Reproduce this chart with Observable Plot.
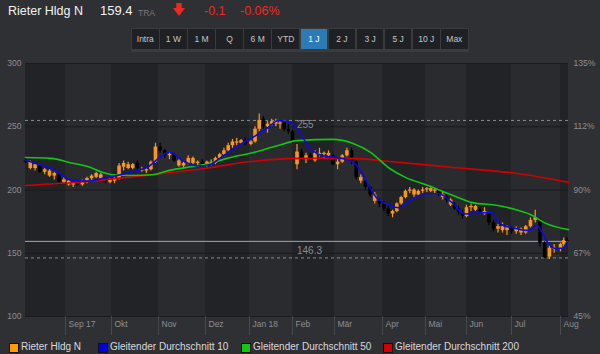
<!DOCTYPE html>
<html><head><meta charset="utf-8">
<script src="https://cdn.jsdelivr.net/npm/d3@7"></script>
<script src="https://cdn.jsdelivr.net/npm/@observablehq/plot@0.6"></script>
<style>
html,body{margin:0;padding:0}
body{background:#2f3034;font-family:"Liberation Sans",Arial,sans-serif;width:600px;height:354px;overflow:hidden;position:relative}
.a{position:absolute;white-space:nowrap}
#btns{position:absolute;left:131px;top:28px;height:22px;display:flex;gap:1.5px;background:#3a3b3f;padding:1px}
#btns div{width:26.6px;height:20px;line-height:20px;text-align:center;font-size:8.5px;color:#c4c5c8;background:#1f2023}
#btns div.sel{background:#2c7bb6;color:#fff}
#chart{position:absolute;left:0;top:52px}
.lg{position:absolute;top:343px;width:8px;height:8px;border:1px solid #111}
.lt{position:absolute;top:341px;font-size:10px;color:#d8d9dc;line-height:12px}
</style></head><body>
<div class="a" style="left:8px;top:3px;font-size:12.5px;line-height:16px;color:#f2f2f2">Rieter Hldg N</div>
<div class="a" style="left:100px;top:3px;font-size:13px;line-height:16px;color:#f2f2f2">159.4</div>
<div class="a" style="left:138px;top:8px;font-size:8.5px;line-height:10px;color:#77787c">TRA</div>
<svg class="a" style="left:173px;top:3px" width="12" height="13"><rect x="3.3" y="0" width="5.4" height="5.5" fill="#f0281e"/><polygon points="0,5 12,5 6,13" fill="#f0281e"/></svg>
<div class="a" style="left:204px;top:3px;font-size:12.5px;line-height:16px;color:#f0281e">-0.1</div>
<div class="a" style="left:240px;top:3px;font-size:12.5px;line-height:16px;color:#f0281e">-0.06%</div>
<div id="btns"></div>
<div id="chart"></div>
<div class="lg" style="left:9px;background:#ff9a00"></div><div class="lt" style="left:21px">Rieter Hldg N</div>
<div class="lg" style="left:98px;background:#0000e0"></div><div class="lt" style="left:110px">Gleitender Durchschnitt 10</div>
<div class="lg" style="left:241px;background:#10c810"></div><div class="lt" style="left:253px">Gleitender Durchschnitt 50</div>
<div class="lg" style="left:383px;background:#d00000"></div><div class="lt" style="left:395px">Gleitender Durchschnitt 200</div>
<script>
// ---- data ----
const rangeButtons = ["Intra","1 W","1 M","Q","6 M","YTD","1 J","2 J","3 J","5 J","10 J","Max"];
const selectedRange = "1 J";

const dates = [
"2017-08-07","2017-08-10","2017-08-13","2017-08-16","2017-08-19","2017-08-22","2017-08-25","2017-08-28","2017-08-31",
"2017-09-03","2017-09-06","2017-09-09","2017-09-12","2017-09-15","2017-09-18","2017-09-21","2017-09-24","2017-09-27","2017-09-30",
"2017-10-03","2017-10-06","2017-10-09","2017-10-12","2017-10-15","2017-10-18","2017-10-21","2017-10-24","2017-10-27","2017-10-30",
"2017-11-02","2017-11-05","2017-11-08","2017-11-11","2017-11-14","2017-11-17","2017-11-20","2017-11-23","2017-11-26","2017-11-29",
"2017-12-02","2017-12-05","2017-12-08","2017-12-11","2017-12-14","2017-12-17","2017-12-20","2017-12-23","2017-12-26","2017-12-29",
"2018-01-02","2018-01-05","2018-01-08","2018-01-11","2018-01-14","2018-01-17","2018-01-20","2018-01-23","2018-01-26","2018-01-29",
"2018-02-01","2018-02-04","2018-02-07","2018-02-10","2018-02-13","2018-02-16","2018-02-19","2018-02-22","2018-02-25","2018-02-28",
"2018-03-03","2018-03-06","2018-03-09","2018-03-12","2018-03-15","2018-03-18","2018-03-21","2018-03-24","2018-03-27","2018-03-30",
"2018-04-02","2018-04-05","2018-04-08","2018-04-11","2018-04-14","2018-04-17","2018-04-20","2018-04-23","2018-04-26","2018-04-29",
"2018-05-02","2018-05-05","2018-05-08","2018-05-11","2018-05-14","2018-05-17","2018-05-20","2018-05-23","2018-05-26","2018-05-29",
"2018-06-01","2018-06-04","2018-06-07","2018-06-10","2018-06-13","2018-06-16","2018-06-19","2018-06-22","2018-06-25","2018-06-28",
"2018-07-01","2018-07-04","2018-07-07","2018-07-10","2018-07-13","2018-07-16","2018-07-19","2018-07-22","2018-07-25","2018-07-28",
"2018-08-01","2018-08-03","2018-08-05"];
const open = [223,217,217,219,214,211,211,212,206, 204,204,205,204,206,209,210,209,209,206, 207,209,218,217,217,221,215,215,216,222,
 234,231,227,228,219,219,221,221,221,222, 220,221,221,225,228,231,235,237,237,239, 236,238,248,256,250,252,252,252,253,248,
 246,220,230,224,227,223,228,228,227,227, 220,222,227,231,222,207,207,202,191,191, 189,185,181,183,189,194,199,196,196,199,
 200,199,199,200,194,194,188,188,185,182, 179,186,184,184,181,181,174,169,168,168, 170,167,166,166,171,176,176,158,147,153, 153,157,160];
const high = [225,223,221,220,217,216,214,213,210, 208,206,207,208,210,212,214,213,210,209, 210,221,223,222,221,223,218,217,223,237,
 237,232,230,229,224,222,227,226,223,224, 223,224,226,229,233,237,240,241,240,241, 239,250,260,258,254,256,256,255,254,252,
 247,236,232,229,229,231,233,230,231,228, 224,228,233,233,223,212,208,203,198,193, 191,187,184,190,195,200,202,201,200,202,
 202,203,201,201,198,196,193,190,187,184, 188,189,188,186,186,182,176,173,174,172, 171,171,170,172,178,184,177,159,156,157, 158,162,162];
const low = [221,216,215,213,212,210,208,204,205, 203,202,203,203,205,207,209,208,205,205, 205,208,215,216,216,216,214,213,215,221,
 229,225,224,222,218,217,220,220,218,219, 218,219,220,224,226,230,233,235,236,235, 235,237,246,248,245,250,250,248,246,244,
 236,216,222,221,222,222,226,225,226,219, 216,221,226,220,208,205,200,194,189,186, 183,179,178,182,188,193,197,194,195,197,
 198,198,197,195,192,190,187,184,180,177, 178,183,183,181,180,172,167,166,166,164, 165,165,164,165,170,174,155,146,145,150, 151,155,158];
const close = [222,222,220,214,216,215,213,206,208, 207,205,204,207,209,211,213,212,206,208, 209,219,221,220,220,217,216,216,222,234,
 231,227,228,223,223,221,225,225,222,220, 222,222,225,228,231,235,238,238,239,236, 238,248,255,250,252,254,254,253,248,246,
 238,230,224,227,223,229,229,229,229,220, 222,227,231,222,210,210,202,196,196,189, 185,181,183,189,194,199,200,200,199,200,
 201,201,200,196,196,192,192,185,182,179, 186,187,187,183,183,174,169,171,171,170, 167,169,169,171,176,178,158,146.3,154,154, 157,160,159.4];

const ma10Dates = ["2017-08-07","2017-08-17","2017-08-25","2017-09-04","2017-09-15","2017-09-28","2017-10-07","2017-10-13","2017-10-26","2017-11-02","2017-11-08","2017-11-17","2017-11-26","2017-12-04","2017-12-11","2017-12-27","2018-01-04","2018-01-14","2018-01-22","2018-02-01","2018-02-08","2018-02-13","2018-02-21","2018-02-28","2018-03-09","2018-03-13","2018-03-18","2018-03-22","2018-03-28","2018-04-06","2018-04-12","2018-04-22","2018-05-01","2018-05-11","2018-05-21","2018-05-31","2018-06-09","2018-06-18","2018-06-23","2018-07-02","2018-07-12","2018-07-17","2018-07-24","2018-07-28","2018-08-02","2018-08-05"];
const ma10Values = [223.5,219.5,216,208,207,210,212,214,219,226,230,223,219,220,225,237,242,249,255,252.5,241,233,227,226,224,222,215,206,194,188,186,193,197,197,190,181,182,182,173.5,170,168,172,158.5,154,154,158];

const ma50Dates = ["2017-08-07","2017-08-23","2017-09-04","2017-09-17","2017-09-25","2017-10-02","2017-10-13","2017-10-28","2017-11-08","2017-11-23","2017-12-04","2017-12-16","2018-01-04","2018-01-21","2018-02-04","2018-02-28","2018-03-13","2018-03-24","2018-04-06","2018-04-17","2018-05-03","2018-05-21","2018-06-05","2018-06-22","2018-07-05","2018-07-14","2018-07-22","2018-08-06"];
const ma50Values = [225.7,225,221.6,218,214,212,211.5,212,215.5,218.6,221,225,229.6,235,239,240,236.8,230,217,210,203.6,196,190,187.7,184,180,174,168.7];

const ma200Dates = ["2017-08-07","2017-09-15","2017-10-17","2017-12-04","2018-01-02","2018-02-06","2018-03-11","2018-04-06","2018-05-20","2018-07-05","2018-08-06"];
const ma200Values = [203.6,206.7,210.7,217.6,222.5,225,225,222.5,218,213,206];

const monthEdges = ["2017-08-07","2017-09-01","2017-10-01","2017-11-01","2017-12-01","2018-01-01","2018-02-01","2018-03-01","2018-04-01","2018-05-01","2018-06-01","2018-07-01","2018-08-01","2018-08-06"];
const monthLabels = ["Sep 17","Okt","Nov","Dez","Jan 18","Feb","Mär","Apr","Mai","Jun","Jul","Aug"];
const yTicks = [100,150,200,250,300];
const yPctLabels = ["45%","67%","90%","112%","135%"];
const highClose = 255, lowClose = 146.3, lastPrice = 159.4;

// ---- UI buttons ----
const bt = document.getElementById("btns");
rangeButtons.forEach(b => { const d = document.createElement("div"); d.textContent = b; if (b === selectedRange) d.className = "sel"; bt.appendChild(d); });

// ---- chart ----
const parse = s => new Date(s + "T00:00:00Z");
const candles = dates.map((d,i) => ({date: parse(d), o: open[i], h: high[i], l: low[i], c: close[i]}));
const series = (ds, vs) => ds.map((d,i) => ({date: parse(d), v: vs[i]}));
const ma10 = series(ma10Dates, ma10Values), ma50 = series(ma50Dates, ma50Values), ma200 = series(ma200Dates, ma200Values);
const edges = monthEdges.map(parse);
const bands = edges.slice(0,-1).map((d,i) => ({x1: d, x2: edges[i+1], fill: i % 2 ? "#2a2b2f" : "#222327"}));
const monthTicks = edges.slice(1, 13);
const labelOf = new Map(monthTicks.map((d,i) => [+d, monthLabels[i]]));
const ORANGE = "#f7971c", DOWN = "#000000";
const candleColor = d => d.c >= d.o ? ORANGE : DOWN;
const axisColor = "#8d8e92";

const chart = Plot.plot({
  width: 600, height: 284,
  marginLeft: 25, marginRight: 32, marginTop: 11, marginBottom: 20,
  style: {background: "transparent", fontFamily: "Liberation Sans, Arial, sans-serif"},
  x: {type: "utc", domain: edges, range: [25,65,111,158,205,249,292,334,382,425,466,511,560,568], label: null},
  y: {domain: [100, 300], label: null},
  marks: [
    Plot.rect(bands, {x1: "x1", x2: "x2", fill: "fill"}),
    Plot.gridY(yTicks, {stroke: "#1a1b1e", strokeOpacity: 1}),
    Plot.ruleY([highClose, lowClose], {stroke: "#8a8b8f", strokeDasharray: "3,3"}),
    Plot.ruleY([lastPrice], {stroke: "#a8a9ad"}),
    Plot.ruleX(candles, {x: "date", y1: "l", y2: "h", stroke: candleColor, strokeWidth: 1.2}),
    Plot.ruleX(candles, {x: "date", y1: "o", y2: "c", stroke: candleColor, strokeWidth: 3.6}),
    Plot.line(ma200, {x: "date", y: "v", stroke: "#d20000", strokeWidth: 1.6, curve: "monotone-x"}),
    Plot.line(ma50, {x: "date", y: "v", stroke: "#12c612", strokeWidth: 1.6, curve: "monotone-x"}),
    Plot.line(ma10, {x: "date", y: "v", stroke: "#0a0ae6", strokeWidth: 1.6, curve: "monotone-x"}),
    Plot.text([highClose], {y: d => d, text: d => String(d), textAnchor: "start", dy: 4, fill: "#8a8b8f", fontSize: 10}),
    Plot.text([lowClose], {y: d => d, text: d => String(d), textAnchor: "start", dy: -7, fill: "#8a8b8f", fontSize: 10}),
    Plot.axisY(yTicks, {tickSize: 0, tickPadding: 4, fill: axisColor, fontSize: 8.5, label: null}),
    Plot.axisY(yTicks, {anchor: "right", tickSize: 0, tickPadding: 5, fill: axisColor, fontSize: 8.5, label: null,
      tickFormat: d => yPctLabels[yTicks.indexOf(d)]}),
    Plot.axisX(monthTicks, {tickSize: 19, stroke: "#48494d", tickFormat: () => "", label: null}),
    Plot.axisX(monthTicks, {tickSize: 0, tickPadding: 4, textAnchor: "start", dx: 3, fill: axisColor, fontSize: 8.5, label: null,
      tickFormat: d => labelOf.get(+d)})
  ]
});
document.getElementById("chart").appendChild(chart);
</script>
</body></html>
